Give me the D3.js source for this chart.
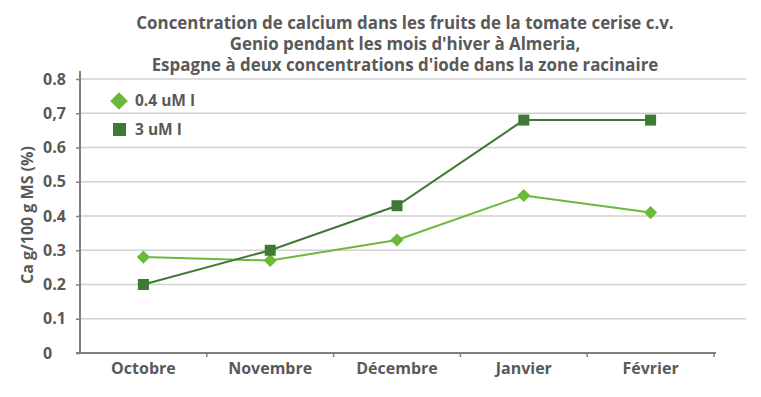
<!DOCTYPE html>
<html>
<head>
<meta charset="utf-8">
<script src="https://cdn.jsdelivr.net/npm/d3@7"></script>
<style>
  body { margin: 0; background: #fff; }
  text { font-family: "Open Sans", sans-serif; font-weight: bold; fill: #595959; }
</style>
</head>
<body>
<svg id="chart" width="761" height="397"></svg>
<script>
// data
const months = ["Octobre", "Novembre", "Décembre", "Janvier", "Février"];
const lowIodine = [0.28, 0.27, 0.33, 0.46, 0.41];   // 0.4 uM I
const highIodine = [0.2, 0.3, 0.43, 0.68, 0.68];    // 3 uM I
const yTicks = [0, 0.1, 0.2, 0.3, 0.4, 0.5, 0.6, 0.7, 0.8];
const yTickLabels = ["0", "0.1", "0.2", "0.3", "0.4", "0.5", "0.6", "0,7", "0.8"];
const titleLines = [
  "Concentration de calcium dans les fruits de la tomate cerise c.v.",
  "Genio pendant les mois d'hiver à Almeria,",
  "Espagne à deux concentrations d'iode dans la zone racinaire"
];

const svg = d3.select("#chart");
const plotLeft = 80, plotRight = 714, plotTop = 79, plotBottom = 353;

const x = d3.scaleBand().domain(months).range([plotLeft, plotRight]);
const y = d3.scaleLinear().domain([0, 0.8]).range([plotBottom, plotTop]);

// title
svg.append("g").selectAll("text").data(titleLines).join("text")
  .attr("x", 405).attr("y", (d, i) => 29 + i * 21)
  .attr("text-anchor", "middle").style("font-size", "16.9px")
  .text(d => d);

// gridlines
svg.append("g").selectAll("line").data(yTicks.slice(1)).join("line")
  .attr("x1", plotLeft).attr("x2", 746)
  .attr("y1", d => y(d)).attr("y2", d => y(d))
  .attr("stroke", "#d0d0d0").attr("stroke-width", 1.5);

// y axis
const yAxis = svg.append("g").attr("transform", `translate(${plotLeft},0)`)
  .call(d3.axisLeft(y).tickValues(yTicks).tickSize(4).tickFormat((d, i) => yTickLabels[i]));
yAxis.attr("font-family", null).attr("font-size", null);
yAxis.select(".domain").attr("stroke", "#7f7f7f").attr("stroke-width", 2)
  .attr("d", `M0,${plotTop - 8}V${plotBottom}`);
yAxis.selectAll(".tick line").attr("stroke", "#7f7f7f").attr("stroke-width", 1.5);
yAxis.selectAll(".tick text").attr("x", -37).attr("text-anchor", "start")
  .style("font-size", "16px").attr("fill", null);

// x axis
const xAxis = svg.append("g").attr("transform", `translate(0,${plotBottom})`)
  .call(d3.axisBottom(x).tickSize(0));
xAxis.attr("font-family", null).attr("font-size", null);
xAxis.select(".domain").attr("stroke", "#7f7f7f").attr("stroke-width", 2)
  .attr("d", `M${plotLeft - 4},0H${plotRight + 2}`);
xAxis.selectAll(".tick text").attr("dy", "1.05em").attr("y", 4)
  .style("font-size", "16px").attr("fill", null);
svg.append("g").selectAll("line").data(months).join("line")
  .attr("x1", d => x(d) + x.bandwidth()).attr("x2", d => x(d) + x.bandwidth())
  .attr("y1", plotBottom).attr("y2", plotBottom + 4)
  .attr("stroke", "#7f7f7f").attr("stroke-width", 1.5);

// y axis title
svg.append("text")
  .attr("transform", "translate(33,215) rotate(-90)")
  .attr("text-anchor", "middle").style("font-size", "16px")
  .text("Ca g/100 g MS (%)");

const cx = d => x(d) + x.bandwidth() / 2;
const line = d3.line().x(d => cx(d[0])).y(d => y(d[1]));

const lightGreen = "#6bb93c", darkGreen = "#3f7a35";

// 0.4 uM line + diamonds
svg.append("path").datum(months.map((m, i) => [m, lowIodine[i]]))
  .attr("d", line).attr("fill", "none").attr("stroke", lightGreen).attr("stroke-width", 2);
svg.append("g").selectAll("path").data(months).join("path")
  .attr("d", d3.symbol(d3.symbolDiamond2, 110))
  .attr("transform", (d, i) => `translate(${cx(d)},${y(lowIodine[i])})`)
  .attr("fill", lightGreen);

// 3 uM line + squares
svg.append("path").datum(months.map((m, i) => [m, highIodine[i]]))
  .attr("d", line).attr("fill", "none").attr("stroke", darkGreen).attr("stroke-width", 2);
svg.append("g").selectAll("rect").data(months).join("rect")
  .attr("x", d => cx(d) - 5.5).attr("y", (d, i) => y(highIodine[i]) - 5.5)
  .attr("width", 11).attr("height", 11).attr("fill", darkGreen);

// legend
const legend = svg.append("g");
legend.append("path").attr("d", d3.symbol(d3.symbolDiamond2, 200))
  .attr("transform", "translate(119,101)").attr("fill", lightGreen);
legend.append("text").attr("x", 135).attr("y", 106).style("font-size", "15.5px").text("0.4 uM I");
legend.append("rect").attr("x", 113).attr("y", 123).attr("width", 13).attr("height", 13).attr("fill", darkGreen);
legend.append("text").attr("x", 135).attr("y", 135).style("font-size", "15.5px").text("3 uM I");
</script>
</body>
</html>
